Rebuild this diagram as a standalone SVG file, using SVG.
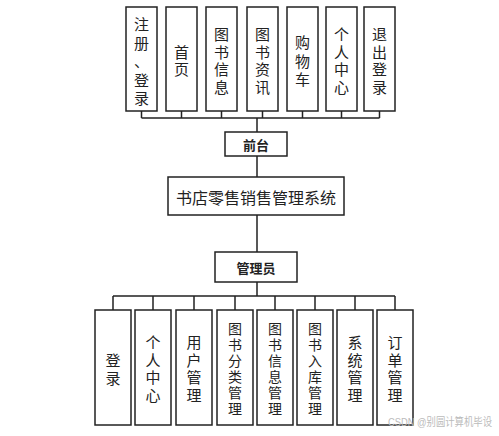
<svg xmlns="http://www.w3.org/2000/svg" width="499" height="436" viewBox="0 0 499 436">
<style>
.box{fill:#fff;stroke:#222;stroke-width:1.5}
.ln{fill:none;stroke:#222;stroke-width:1.5}
.t{font-family:"Noto Sans CJK SC","Noto Sans",sans-serif;font-size:15px;fill:#222;text-anchor:middle;dominant-baseline:central}
.s{font-size:14px}
.b{font-weight:bold;font-size:13px}
.title{font-size:16px}
.wm{font-family:"Liberation Sans","Noto Sans CJK SC",sans-serif;font-size:11px;fill:#bbb}
</style>
<rect width="499" height="436" fill="#fff"/>
<g id="connectors">
<path class="ln" d="M141.5 111V118M181.5 111V118M221.5 111V118M262.5 111V118M302.5 111V118M341.5 111V118M379.5 111V118M141.5 118H379.5M257 118V132"/>
<path class="ln" d="M257 156V177M257 215V252M257 282V296M113 296H395"/>
<path class="ln" d="M113 296V310M153 296V310M194 296V310M235 296V310M275 296V310M315 296V310M355 296V310M395 296V310"/>
</g>
<g id="n1"><rect class="box" x="126" y="7" width="31" height="104"/><text class="t"><tspan x="141.5" y="23">注</tspan><tspan x="141.5" y="41.5">册</tspan><tspan x="141.5" y="60">、</tspan><tspan x="141.5" y="78.5">登</tspan><tspan x="141.5" y="97">录</tspan></text></g>
<g id="n2"><rect class="box" x="166" y="7" width="31" height="104"/><text class="t"><tspan x="181.5" y="51">首</tspan><tspan x="181.5" y="68">页</tspan></text></g>
<g id="n3"><rect class="box" x="206" y="7" width="31" height="104"/><text class="t"><tspan x="221.5" y="33">图</tspan><tspan x="221.5" y="50.5">书</tspan><tspan x="221.5" y="68">信</tspan><tspan x="221.5" y="85.5">息</tspan></text></g>
<g id="n4"><rect class="box" x="247" y="7" width="31" height="104"/><text class="t"><tspan x="262.5" y="33">图</tspan><tspan x="262.5" y="50.5">书</tspan><tspan x="262.5" y="68">资</tspan><tspan x="262.5" y="85.5">讯</tspan></text></g>
<g id="n5"><rect class="box" x="287" y="7" width="31" height="104"/><text class="t"><tspan x="302.5" y="41">购</tspan><tspan x="302.5" y="59.5">物</tspan><tspan x="302.5" y="78">车</tspan></text></g>
<g id="n6"><rect class="box" x="326" y="7" width="31" height="104"/><text class="t"><tspan x="341.5" y="33">个</tspan><tspan x="341.5" y="50.5">人</tspan><tspan x="341.5" y="68">中</tspan><tspan x="341.5" y="85.5">心</tspan></text></g>
<g id="n7"><rect class="box" x="364" y="7" width="31" height="104"/><text class="t"><tspan x="379.5" y="33">退</tspan><tspan x="379.5" y="50.5">出</tspan><tspan x="379.5" y="68">登</tspan><tspan x="379.5" y="85.5">录</tspan></text></g>
<g id="qiantai"><rect class="box" x="225" y="132" width="62" height="24"/><text class="t b" x="256" y="144">前台</text></g>
<g id="system"><rect class="box" x="168" y="177" width="176" height="38"/><text class="t title" x="256" y="197">书店零售销售管理系统</text></g>
<g id="admin"><rect class="box" x="215" y="252" width="82" height="30"/><text class="t b" x="256" y="267">管理员</text></g>
<g id="m1"><rect class="box" x="95" y="310" width="36" height="115"/><text class="t"><tspan x="113" y="359">登</tspan><tspan x="113" y="376.5">录</tspan></text></g>
<g id="m2"><rect class="box" x="135" y="310" width="36" height="115"/><text class="t"><tspan x="153" y="341">个</tspan><tspan x="153" y="358.5">人</tspan><tspan x="153" y="376">中</tspan><tspan x="153" y="393.5">心</tspan></text></g>
<g id="m3"><rect class="box" x="176" y="310" width="36" height="115"/><text class="t"><tspan x="194" y="341">用</tspan><tspan x="194" y="358.5">户</tspan><tspan x="194" y="376">管</tspan><tspan x="194" y="393.5">理</tspan></text></g>
<g id="m4"><rect class="box" x="217" y="310" width="36" height="115"/><text class="t s"><tspan x="235" y="328">图</tspan><tspan x="235" y="344">书</tspan><tspan x="235" y="360">分</tspan><tspan x="235" y="376">类</tspan><tspan x="235" y="392">管</tspan><tspan x="235" y="408">理</tspan></text></g>
<g id="m5"><rect class="box" x="257" y="310" width="36" height="115"/><text class="t s"><tspan x="275" y="328">图</tspan><tspan x="275" y="344">书</tspan><tspan x="275" y="360">信</tspan><tspan x="275" y="376">息</tspan><tspan x="275" y="392">管</tspan><tspan x="275" y="408">理</tspan></text></g>
<g id="m6"><rect class="box" x="297" y="310" width="36" height="115"/><text class="t s"><tspan x="315" y="328">图</tspan><tspan x="315" y="344">书</tspan><tspan x="315" y="360">入</tspan><tspan x="315" y="376">库</tspan><tspan x="315" y="392">管</tspan><tspan x="315" y="408">理</tspan></text></g>
<g id="m7"><rect class="box" x="337" y="310" width="36" height="115"/><text class="t"><tspan x="355" y="341">系</tspan><tspan x="355" y="358.5">统</tspan><tspan x="355" y="376">管</tspan><tspan x="355" y="393.5">理</tspan></text></g>
<g id="m8"><rect class="box" x="377" y="310" width="36" height="115"/><text class="t"><tspan x="395" y="341">订</tspan><tspan x="395" y="358.5">单</tspan><tspan x="395" y="376">管</tspan><tspan x="395" y="393.5">理</tspan></text></g>
<text class="wm" x="388" y="426" textLength="104" lengthAdjust="spacingAndGlyphs">CSDN @别圆计算机毕设</text>
</svg>
